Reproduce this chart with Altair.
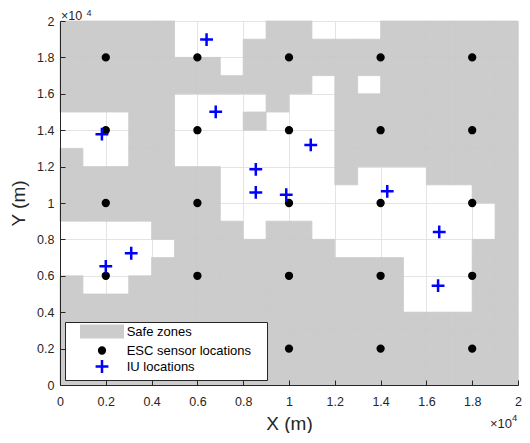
import altair as alt
import pandas as pd

# ---------------- data ----------------
CELL = 1000
# safe-zone mask, top row (y 19000-20000) first; '#' = safe zone (grey), '.' = not safe (white)
mask_rows = [
    "#####....##...######",  # 19
    "#####...############",  # 18
    "#######.############",  # 17
    "###########.#.######",  # 16
    "#####....#..########",  # 15
    "...##...#...########",  # 14
    "...##.......########",  # 13
    "#..##.......########",  # 12
    "#######.....#...####",  # 11
    "#######...........##",  # 10
    "#######............#",  # 9
    "....####.##........#",  # 8
    ".....#######......##",  # 7
    "....###########...##",  # 6
    "#..############...##",  # 5
    "###############...##",  # 4
    "####################",  # 3
    "####################",  # 2
    "####################",  # 1
    "####################",  # 0
]

sensor_xs = [2000, 6000, 10000, 14000, 18000]
sensor_ys = [2000, 6000, 10000, 14000, 18000]

iu_x = [6400, 6800, 1830, 10950, 8550, 8550, 9880, 14290, 16560, 16510, 3110, 2000]
iu_y = [18980, 15010, 13780, 13190, 11850, 10580, 10460, 10640, 8410, 5460, 7240, 6520]

# the longest label carries trailing no-break spaces (closed by a zero-width space so they
# are not trimmed): they only widen the legend box
series_names = ["Safe zones", "ESC sensor locations\u00a0\u00a0\u00a0\u00a0\u200b", "IU locations"]
series_colors = ["#cccccc", "#000000", "#0000ff"]
tick_values = list(range(0, 20001, 2000))

# ---------------- tables ----------------
n = len(mask_rows)
cells = []
for i, row in enumerate(mask_rows):
    j = n - 1 - i
    for c, ch in enumerate(row):
        if ch == "#":
            cells.append({"x1": c * CELL, "x2": (c + 1) * CELL,
                          "y1": j * CELL, "y2": (j + 1) * CELL,
                          "series": series_names[0]})
cells_df = pd.DataFrame(cells)

pts = []
for sy in sensor_ys:
    for sx in sensor_xs:
        pts.append({"x": sx, "y": sy, "series": series_names[1]})
for x, y in zip(iu_x, iu_y):
    pts.append({"x": x, "y": y, "series": series_names[2]})
pts_df = pd.DataFrame(pts)

# ---------------- styling ----------------
W, H = 458, 364
FONT = "Liberation Sans"
AX = "#262626"
dom = [0, 20000]

RECT_PATH = "M-3.08,-0.85L3.08,-0.85L3.08,0.85L-3.08,0.85Z"
CIRCLE_PATH = "M-0.43,0A0.43,0.43,0,1,1,0.43,0A0.43,0.43,0,1,1,-0.43,0Z"
PLUS_PATH = "M-0.95,0L0.95,0M0,-0.95L0,0.95"

legend = alt.Legend(title=None, orient="bottom-left")
fill_scale = alt.Scale(domain=series_names, range=series_colors)
shape_scale = alt.Scale(domain=series_names, range=[RECT_PATH, CIRCLE_PATH, PLUS_PATH])

x_main = alt.Axis(values=tick_values, grid=True, gridColor="#e4e4e4", gridWidth=1,
                  domain=False, ticks=False, labelExpr="datum.value / 10000",
                  labelFont=FONT, labelFontSize=12.5, labelColor=AX, labelPadding=10,
                  labelFlush=False, labelOverlap=False,
                  title="X (m)", titleFont=FONT, titleFontSize=19, titleFontWeight="normal",
                  titleColor=AX, titleX=W / 2, titleY=44, titleBaseline="alphabetic",
                  titleAlign="center", orient="bottom")
y_main = alt.Axis(values=tick_values, grid=True, gridColor="#e4e4e4", gridWidth=1,
                  domain=False, ticks=False, labelExpr="datum.value / 10000",
                  labelFont=FONT, labelFontSize=12.5, labelColor=AX, labelPadding=6,
                  labelFlush=False, labelOverlap=False,
                  title="Y (m)", titleFont=FONT, titleFontSize=19, titleFontWeight="normal",
                  titleColor=AX, titleX=-36, titleY=H / 2, titleBaseline="alphabetic",
                  titleAlign="center", titleAngle=270, orient="left")
x_ticks = alt.Axis(orient="top", offset=-H, values=tick_values, grid=False, labels=False,
                   ticks=True, tickSize=5, tickColor=AX, tickWidth=1,
                   domain=True, domainColor=AX, domainWidth=1, title=None, zindex=1)
y_ticks = alt.Axis(orient="right", offset=-W, values=tick_values, grid=False, labels=False,
                   ticks=True, tickSize=5, tickColor=AX, tickWidth=1,
                   domain=True, domainColor=AX, domainWidth=1, title=None, zindex=1)

zones = alt.Chart(cells_df).mark_rect(strokeWidth=0.8, opacity=1).encode(
    x=alt.X("x1:Q", scale=alt.Scale(domain=dom, nice=False, zero=False), axis=x_main),
    x2="x2:Q",
    y=alt.Y("y1:Q", scale=alt.Scale(domain=dom, nice=False, zero=False), axis=y_main),
    y2="y2:Q",
    fill=alt.Fill("series:N", scale=fill_scale, legend=legend),
    stroke=alt.Stroke("series:N", scale=fill_scale, legend=legend),
)

points = alt.Chart(pts_df).mark_point(filled=True, size=182, strokeWidth=2.5, opacity=1).encode(
    x=alt.X("x:Q", scale=alt.Scale(domain=dom, nice=False, zero=False), axis=x_ticks),
    y=alt.Y("y:Q", scale=alt.Scale(domain=dom, nice=False, zero=False), axis=y_ticks),
    fill=alt.Fill("series:N", scale=fill_scale, legend=legend),
    stroke=alt.Stroke("series:N", scale=fill_scale, legend=legend),
    shape=alt.Shape("series:N", scale=shape_scale, legend=legend),
)


def exp_text(xv, yv, txt, dx, dy, size):
    df = pd.DataFrame({"x": [xv], "y": [yv], "t": [txt]})
    return alt.Chart(df).mark_text(align="left", baseline="alphabetic", dx=dx, dy=dy,
                                   font=FONT, fontSize=size, color=AX).encode(
        x=alt.X("x:Q", scale=alt.Scale(domain=dom, nice=False, zero=False), axis=None),
        y=alt.Y("y:Q", scale=alt.Scale(domain=dom, nice=False, zero=False), axis=None),
        text="t:N",
    )


ann = [
    exp_text(0, 20000, "×10", 1, -1.5, 12.5),
    exp_text(0, 20000, "4", 26.5, -5, 9),
    exp_text(20000, 0, "×10", -28, 43, 13),
    exp_text(20000, 0, "4", -6, 36, 9.5),
]

chart = alt.layer(zones, points, *ann).resolve_axis(
    x="independent", y="independent"
).properties(
    width=W, height=H,
    autosize=alt.AutoSizeParams(type="none"),
    padding={"left": 52, "top": 13, "right": 4, "bottom": 48},
    background="white",
).configure_view(stroke=None).configure_legend(
    offset=5, padding=1.5, fillColor="white", strokeColor=AX,
    symbolSize=182, symbolStrokeWidth=2.5, symbolOffset=27.5,
    labelOffset=16.7, labelFont=FONT, labelFontSize=13, labelColor="#000000",
    rowPadding=-5,
)

chart.save("out.html", embed_options={"renderer": "svg", "actions": False})
